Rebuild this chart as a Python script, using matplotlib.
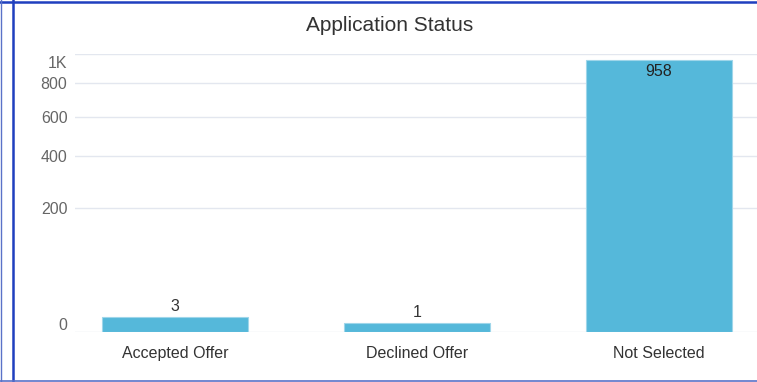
import matplotlib
matplotlib.use('Agg')
import matplotlib.pyplot as plt
import matplotlib.transforms as mtransforms
import numpy as np
from matplotlib.lines import Line2D

plt.rcParams['font.family'] = ['Liberation Sans', 'DejaVu Sans']

statuses = ['Accepted Offer', 'Declined Offer', 'Not Selected']
counts = [3, 1, 958]
y_ticks = [0, 200, 400, 600, 800, 1000]
y_tick_labels = ['0', '200', '400', '600', '800', '1K']

bar_color = '#55b8da'
grid_color = '#e3e7ef'


def fwd(v):
    return np.sqrt(np.clip(v, 0, None))


def inv(v):
    return np.square(v)


fig = plt.figure(figsize=(7.57, 3.82), dpi=100)
ax = fig.add_axes([0.0991, 0.1309, 0.9009, 0.7277])

x = np.arange(len(statuses))
ax.bar(x, counts, width=0.6, color=bar_color, edgecolor='#9fd6ea',
       linewidth=0.8, zorder=3)

ax.set_yscale('function', functions=(fwd, inv))
ax.set_ylim(0, 1000)
ax.set_xlim(-0.413, 2.405)
ax.set_yticks(y_ticks)
ax.set_yticklabels(y_tick_labels)
ax.set_xticks(x)
ax.set_xticklabels(statuses)

ax.grid(axis='y', color=grid_color, linewidth=1, zorder=0)
ax.tick_params(axis='y', length=0, pad=5.5, labelsize=11.5, labelcolor='#666666')
ax.tick_params(axis='x', length=0, pad=10, labelsize=11.5, labelcolor='#333333')
for s in ax.spines.values():
    s.set_visible(False)

# keep the end labels inside the plot area
ylabels = ax.get_yticklabels()
ylabels[0].set_transform(ylabels[0].get_transform() +
                         mtransforms.ScaledTranslation(0, 6 / 72, fig.dpi_scale_trans))
ylabels[-1].set_transform(ylabels[-1].get_transform() +
                          mtransforms.ScaledTranslation(0, -6 / 72, fig.dpi_scale_trans))

# value labels: small bars get it above, the tall one inside the top
for xi, v in zip(x, counts):
    if v > 500:
        ax.annotate(str(v), (xi, v), xytext=(0, -3), textcoords='offset points',
                    ha='center', va='top', fontsize=11.5, color='#222222')
    else:
        ax.annotate(str(v), (xi, v), xytext=(0, 2), textcoords='offset points',
                    ha='center', va='bottom', fontsize=11.5, color='#333333')

fig.text(0.515, 1 - 31 / 382, 'Application Status', ha='center', va='baseline',
         fontsize=15, color='#333333')

# panel frame
fig.add_artist(Line2D([12.5 / 757, 12.5 / 757], [0, 1], color='#1f3fbf',
                      linewidth=1.8, transform=fig.transFigure))
fig.add_artist(Line2D([0, 1], [1 - 1.5 / 382, 1 - 1.5 / 382], color='#1f3fbf',
                      linewidth=1.8, transform=fig.transFigure))
fig.add_artist(Line2D([0, 1], [1.5 / 382, 1.5 / 382], color='#5a72c8',
                      linewidth=1.2, transform=fig.transFigure))
fig.add_artist(Line2D([0.5 / 757, 0.5 / 757], [0, 1], color='#5a72c8',
                      linewidth=1.0, transform=fig.transFigure))

fig.savefig('out.png', dpi=100)
